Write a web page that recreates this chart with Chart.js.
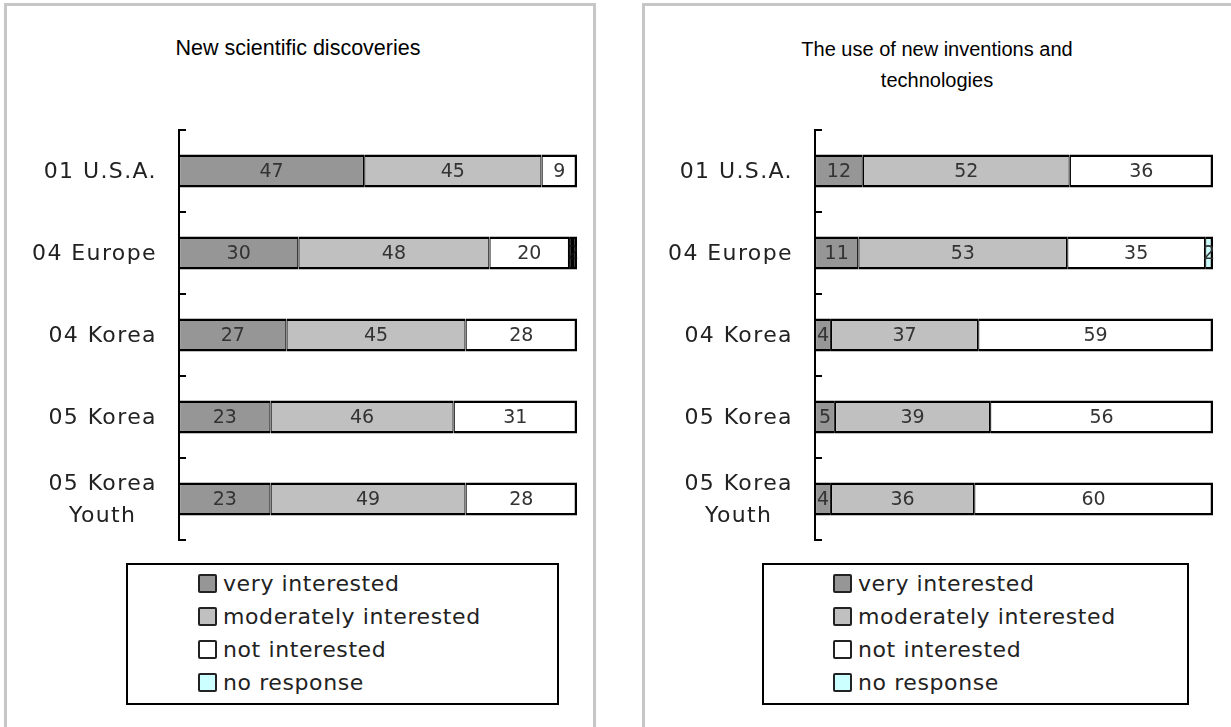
<!DOCTYPE html>
<html>
<head>
<meta charset="utf-8">
<script src="https://cdn.jsdelivr.net/npm/chart.js@4.4.1/dist/chart.umd.min.js"></script>
<style>
  html, body { margin: 0; padding: 0; background: #fff; }
  body { position: relative; width: 1231px; height: 727px; overflow: hidden; }
  .panel { position: absolute; top: 3px; width: 586px; height: 760px; border: 3px solid #c6c6c6; }
  .title { position: absolute; top: 34px; text-align: center; font: 20px "Liberation Sans", Arial, sans-serif; line-height: 31px; color: #000; }
  canvas { position: absolute; top: 0; }
  .legend { position: absolute; top: 563px; height: 138px; border: 2px solid #000; background: #fff; box-sizing: border-box; }
  .legend .row { position: absolute; height: 26px; display: flex; align-items: center; font: 22px "DejaVu Sans", sans-serif; letter-spacing: 0.6px; color: #222; white-space: nowrap; }
  .legend .sw { width: 15px; height: 15px; border: 2px solid #222; border-radius: 2px; margin-right: 6px; flex: none; }
</style>
</head>
<body>
<div class="panel" style="left:4px"></div>
<div class="panel" style="left:642px"></div>
<div class="title" style="left:0; width:596px; font-size:21.5px; top:33px">New scientific discoveries</div>
<div class="title" style="left:640px; width:594px">The use of new inventions and<br>technologies</div>
<canvas id="sci" width="610" height="727" style="left:0"></canvas>
<canvas id="tech" width="611" height="727" style="left:620px"></canvas>
<div class="legend" id="legSci" style="left:126px; width:433px; height:142px"></div>
<div class="legend" id="legTech" style="left:762px; width:427px; height:142px"></div>

<script>
// Survey groups (rows of both charts)
const categories = [['01 U.S.A.'], ['04 Europe'], ['04 Korea'], ['05 Korea'], ['05 Korea', 'Youth']];
const seriesNames = ['very interested', 'moderately interested', 'not interested', 'no response'];
const seriesColors = ['#969696', '#c0c0c0', '#ffffff', '#ccffff'];

// New scientific discoveries
const sciVery     = [47, 30, 27, 23, 23];
const sciModerate = [45, 48, 45, 46, 49];
const sciNot      = [9, 20, 28, 31, 28];
const sciNoResp   = [0, 2, 0, 0, 0];

// The use of new inventions and technologies
const techVery     = [12, 11, 4, 5, 4];
const techModerate = [52, 53, 37, 39, 36];
const techNot      = [36, 35, 59, 56, 60];
const techNoResp   = [0, 2, 0, 0, 0];

const LABEL_FONT = '"DejaVu Sans", sans-serif';

// Bars are 100% stacked: each segment is its share of the row total.
function buildDatasets(series, fills) {
  const totals = categories.map((_, i) => series.reduce((s, arr) => s + arr[i], 0));
  const lastIdx = categories.map((_, i) => {
    let k = -1;
    series.forEach((arr, j) => { if (arr[i] > 0) k = j; });
    return k;
  });
  return series.map((arr, j) => ({
    label: seriesNames[j],
    counts: arr,
    data: arr.map((v, i) => v / totals[i] * 100),
    backgroundColor: fills[j],
    borderColor: '#000',
    borderSkipped: false,
    borderWidth: (c) => ({ top: 2.5, bottom: 2.5, left: 1.25, right: c.datasetIndex === lastIdx[c.dataIndex] ? 2.5 : 1.25 }),
    barPercentage: 0.4,
    categoryPercentage: 1.0
  }));
}

// Boundary ticks, segment values and the group names beside the axis
const decor = {
  id: 'decor',
  afterDatasetsDraw(chart) {
    const ctx = chart.ctx;
    const ys = chart.scales.y;
    const area = chart.chartArea;
    const n = chart.data.labels.length;
    ctx.save();
    ctx.strokeStyle = '#000';
    ctx.lineWidth = 2;
    for (let i = 0; i <= n; i++) {
      const py = Math.round(ys.top + i * (ys.bottom - ys.top) / n);
      ctx.beginPath();
      ctx.moveTo(area.left, py);
      ctx.lineTo(area.left + 7, py);
      ctx.stroke();
    }

    ctx.font = '19px ' + LABEL_FONT;
    ctx.textAlign = 'center';
    ctx.textBaseline = 'middle';
    chart.data.datasets.forEach((ds, di) => {
      chart.getDatasetMeta(di).data.forEach((bar, i) => {
        const v = ds.counts[i];
        if (!v) return;
        ctx.fillStyle = ds.backgroundColor === '#000000' ? '#111' : '#333';
        ctx.fillText(String(v), (bar.x + bar.base) / 2, bar.y + 1);
      });
    });

    ctx.font = '22px ' + LABEL_FONT;
    ctx.letterSpacing = '1.4px';
    ctx.fillStyle = '#222';
    const right = area.left - 22;
    const lh = 32;
    chart.data.labels.forEach((lines, i) => {
      const cy = ys.getPixelForTick(i);
      const widest = Math.max(...lines.map(t => ctx.measureText(t).width));
      const cx = right - widest / 2;
      lines.forEach((t, k) => {
        ctx.fillText(t, cx, cy + (k - (lines.length - 1) / 2) * lh + 1);
      });
    });
    ctx.restore();
  }
};

function makeChart(id, series, fills, axisX, padRight) {
  return new Chart(document.getElementById(id), {
    type: 'bar',
    data: { labels: categories, datasets: buildDatasets(series, fills) },
    options: {
      indexAxis: 'y',
      responsive: false,
      animation: false,
      devicePixelRatio: 1,
      layout: { padding: { left: 0, right: padRight, top: 130, bottom: 187 } },
      plugins: { legend: { display: false }, title: { display: false }, tooltip: { enabled: false } },
      scales: {
        x: { stacked: true, display: false, min: 0, max: 100 },
        y: {
          stacked: true,
          offset: true,
          grid: { display: false, drawTicks: false },
          border: { display: true, color: '#000', width: 2 },
          ticks: { display: false },
          afterFit(s) { s.width = axisX; }
        }
      }
    },
    plugins: [decor]
  });
}

// In the first chart the thin no-response sliver renders as solid black
makeChart('sci', [sciVery, sciModerate, sciNot, sciNoResp], ['#969696', '#c0c0c0', '#ffffff', '#000000'], 179, 33);
makeChart('tech', [techVery, techModerate, techNot, techNoResp], seriesColors, 195, 18);

function buildLegend(id, swatchLeft) {
  const box = document.getElementById(id);
  seriesNames.forEach((name, i) => {
    const row = document.createElement('div');
    row.className = 'row';
    row.style.left = (swatchLeft - 2) + 'px';
    row.style.top = (20 + i * 33.3 - 13 - 2) + 'px';
    const sw = document.createElement('span');
    sw.className = 'sw';
    sw.style.background = seriesColors[i];
    row.appendChild(sw);
    row.appendChild(document.createTextNode(name));
    box.appendChild(row);
  });
}
buildLegend('legSci', 72);
buildLegend('legTech', 71);
</script>
</body>
</html>
